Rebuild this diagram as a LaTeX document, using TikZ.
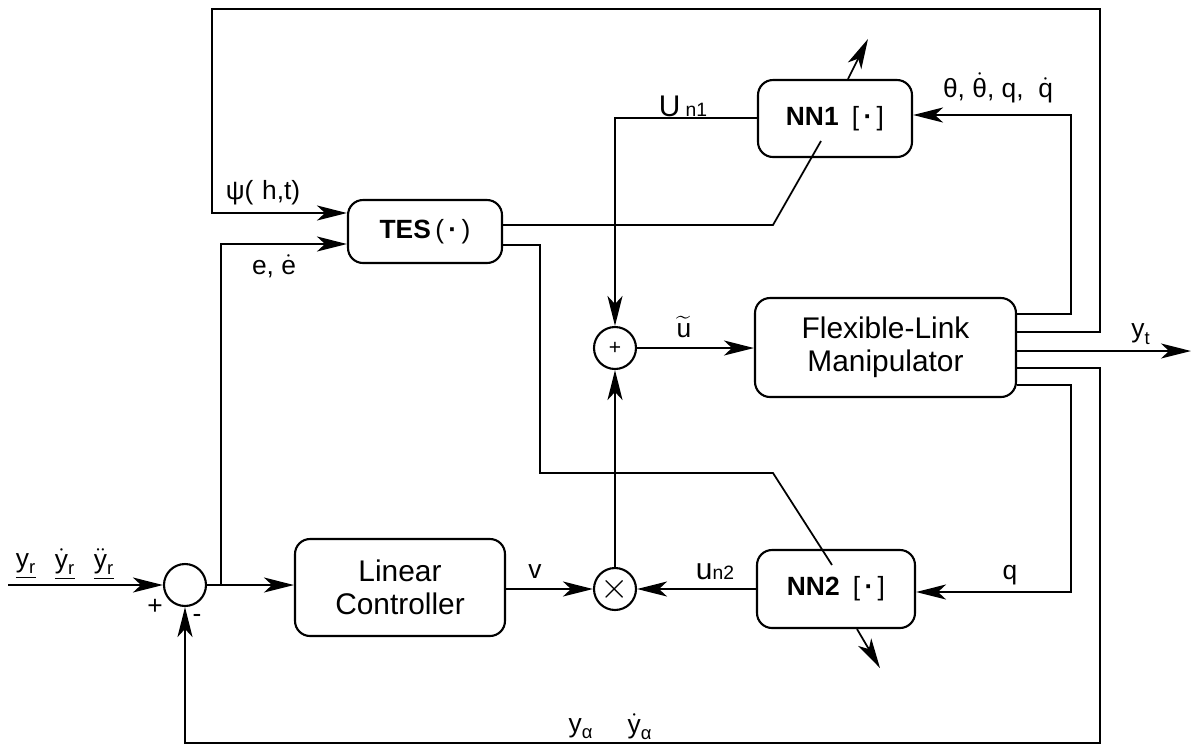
\documentclass[tikz,border=0pt]{standalone}
\usepackage{amsmath}
\usepackage{fontspec}
\setmainfont{Liberation Sans}
\usetikzlibrary{arrows.meta,calc}
\newcommand{\dlbl}[1]{\ensuremath{\dot{\text{#1}}}}
\newcommand{\ddlbl}[1]{\ensuremath{\ddot{\text{#1}}}}
\begin{document}
\begin{tikzpicture}[x=0.02cm,y=-0.02cm,line width=1pt,font=\fontsize{15}{17}\selectfont,
  blk/.style={draw,line width=1.2pt,rounded corners=0.3cm,align=center,font=\fontsize{17}{18.7}\selectfont},
  nnblk/.style={blk,font=\fontsize{15}{17}\selectfont},
  junc/.style={draw,line width=1.2pt,circle,inner sep=0pt,minimum size=0.84cm},
  lbl/.style={inner sep=1pt},
  arr/.style={-{Stealth[length=6mm,width=3mm,inset=1.6mm]}}]
  \useasboundingbox (0,0) rectangle (1191,748);
  % blocks
  \node[nnblk,minimum width=3.08cm,minimum height=1.26cm] (tes) at (425,231.5) {\textbf{TES}\,(\,\textbf{·}\,)};
  \node[nnblk,minimum width=3.08cm,minimum height=1.54cm] (nn1) at (835,118.5) {\textbf{NN1}\enspace[\,\textbf{·}\,]};
  \node[blk,minimum width=5.22cm,minimum height=1.98cm] (flm) at (885.5,347.5) {Flexible-Link\\Manipulator};
  \node[nnblk,minimum width=3.16cm,minimum height=1.56cm] (nn2) at (836,589) {\textbf{NN2}\enspace[\,\textbf{·}\,]};
  \node[blk,minimum width=4.2cm,minimum height=1.94cm] (lc) at (400,587.5) {Linear\\Controller};
  \node[junc] (sum) at (185,585) {};
  \node[junc] (add) at (615,348) {\fontsize{12}{12}\selectfont +};
  \node[junc] (mul) at (615,589) {\fontsize{20}{20}\selectfont$\times$};
  \coordinate (ref) at (8,585);
  \coordinate (j) at (221,585);
  \coordinate (yt) at (1191,351);
  % signals
  \draw[arr] (ref) -- (sum.west);
  \draw[arr] (sum.east) -- (sum.east -| lc.west);
  \draw[arr] (j) |- (tes.west |- 0,244);
  \draw[arr] (lc.east |- mul.west) -- (mul.west);
  \draw[arr] (nn2.west |- mul.east) -- (mul.east);
  \draw[arr] (mul.north) -- (add.south);
  \draw[arr] (nn1.west |- 0,118) -| (add.north);
  \draw[arr] (add.east) -- (add.east -| flm.west);
  \draw (tes.east |- 0,225) -- (773,225) -- ($(nn1.center)+(-14,22.5)$);
  \draw (tes.east |- 0,245) -| (540,473) -- (773,473) -- ($(nn2.center)+(-4,-24)$);
  \draw[arr] ($(nn1.north)+(13,0)$) -- ++(20,-40);
  \draw[arr] ($(nn2.south)+(21,0)$) -- ++(23,39);
  \draw[arr] (flm.east |- 0,314) -| (1071,115) -- (nn1.east |- 0,115);
  \draw[arr] (flm.east |- 0,332) -| (1100,9) -| (212,213) -- (tes.west |- 0,213);
  \draw[arr] (flm.east |- 0,351) -- (yt);
  \draw[arr] (flm.east |- 0,368) -| (1100,743) -| (sum.south);
  \draw[arr] (flm.east |- 0,385) -| (1071,592) -- (nn2.east |- 0,592);
  % labels
  \node[lbl] (psi) at (263,193) {ψ(\,\,h,t)};
  \node[lbl] (err) at (274,266) {e, \dlbl{e}};
  \node[lbl,anchor=base] (un1) at (683,116) {\fontsize{17}{17}\selectfont U\,{\fontsize{11}{12}\selectfont n1}};
  \node[lbl] (state) at (998,88) {θ, \dlbl{θ}, q, \ \dlbl{q}};
  \node[lbl] (utl) at (684,327) {$\widetilde{\text{u}}$};
  \node[lbl] (ytl) at (1141,334) {$\text{y}_{\text{t}}$};
  \node[lbl] (ql) at (1010,575) {q};
  \node[lbl] (un2) at (715,572) {\fontsize{17}{17}\selectfont u{\fontsize{11}{12}\selectfont n2}};
  \node[lbl] (vl) at (535,572) {v};
  \node[lbl] (yr) at (26,566) {\underline{$\text{y}_{\text{r}}$}};
  \node[lbl] (ydr) at (65,564) {\underline{$\dlbl{y}_{\text{r}}$}};
  \node[lbl] (yddr) at (104,564) {\underline{$\ddlbl{y}_{\text{r}}$}};
  \node[lbl] (pl) at (155,607) {+};
  \node[lbl] (mn) at (197,618) {-};
  \node[lbl] (ya) at (581,731) {\underline{$\text{y}_{\text{α}}$}};
  \node[lbl] (yda) at (640,729) {\underline{$\dlbl{y}_{\text{α}}$}};
\end{tikzpicture}
\end{document}
